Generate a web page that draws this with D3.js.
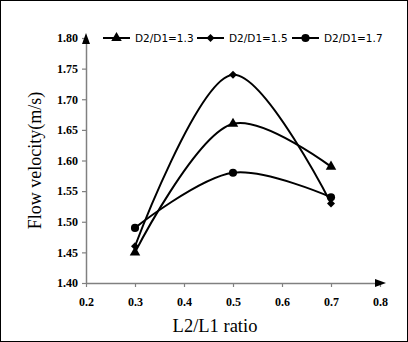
<!DOCTYPE html>
<html>
<head>
<meta charset="utf-8">
<script src="https://cdn.jsdelivr.net/npm/d3@7"></script>
<style>
  body { margin: 0; background: #fff; }
  svg { display: block; }
</style>
</head>
<body>
<svg id="chart" width="408" height="342"></svg>
<script>
const ratios = [0.3, 0.5, 0.7];
const series_names = ["D2/D1=1.3", "D2/D1=1.5", "D2/D1=1.7"];
const v13 = [1.45, 1.66, 1.59];
const v15 = [1.46, 1.74, 1.53];
const v17 = [1.49, 1.58, 1.54];
const x_ticks = [0.2, 0.3, 0.4, 0.5, 0.6, 0.7, 0.8];
const y_ticks = [1.40, 1.45, 1.50, 1.55, 1.60, 1.65, 1.70, 1.75, 1.80];

const svg = d3.select("#chart");
const margins = { top: 38, right: 28, bottom: 59, left: 86 };
const W = 408, H = 342;

svg.append("rect")
    .attr("x", 0.5).attr("y", 0.5)
    .attr("width", W - 1).attr("height", H - 1)
    .attr("fill", "white").attr("stroke", "black").attr("stroke-width", 1);

const x = d3.scaleLinear().domain([0.2, 0.8]).range([margins.left, W - margins.right]);
const y = d3.scaleLinear().domain([1.40, 1.80]).range([H - margins.bottom, margins.top]);

// axes
const xAxis = svg.append("g")
    .attr("transform", `translate(0,${y(1.40)})`)
    .call(d3.axisBottom(x).tickValues(x_ticks).tickFormat(d3.format(".1f")).tickSizeInner(4).tickSizeOuter(0));
const yAxis = svg.append("g")
    .attr("transform", `translate(${x(0.2)},0)`)
    .call(d3.axisLeft(y).tickValues(y_ticks).tickFormat(d3.format(".2f")).tickSizeInner(4).tickSizeOuter(0));

[xAxis, yAxis].forEach(a => {
    a.select(".domain").attr("stroke", "#808080").attr("stroke-width", 1.5);
    a.selectAll(".tick line").attr("stroke", "#808080").attr("stroke-width", 1.2);
    a.selectAll(".tick text")
        .attr("font-family", "'Liberation Serif', 'Times New Roman', serif")
        .attr("font-weight", "bold")
        .attr("font-size", "12px")
        .attr("fill", "black");
});
xAxis.selectAll(".tick text").attr("dy", "1.3em");
yAxis.selectAll(".tick text").attr("x", -8);

// arrow heads
svg.append("path")
    .attr("d", `M${x(0.8) + 6},${y(1.40)} L${x(0.8) - 5},${y(1.40) - 4} L${x(0.8) - 5},${y(1.40) + 4} Z`)
    .attr("fill", "black");
svg.append("path")
    .attr("d", `M${x(0.2)},${y(1.80) - 5} L${x(0.2) - 4},${y(1.80) + 6} L${x(0.2) + 4},${y(1.80) + 6} Z`)
    .attr("fill", "black");

// axis titles
svg.append("text")
    .attr("x", 215).attr("y", 332)
    .attr("text-anchor", "middle")
    .attr("font-family", "'Liberation Serif', 'Times New Roman', serif")
    .attr("font-size", "18.5px")
    .text("L2/L1 ratio");
svg.append("text")
    .attr("transform", `translate(41,${y(1.60)}) rotate(-90)`)
    .attr("text-anchor", "middle")
    .attr("font-family", "'Liberation Serif', 'Times New Roman', serif")
    .attr("font-size", "18px")
    .text("Flow velocity(m/s)");

// series
const all_series = [v13, v15, v17];
const diamond = {
    draw(ctx, size) {
        const r = Math.sqrt(size / 2);
        ctx.moveTo(0, -r); ctx.lineTo(r, 0); ctx.lineTo(0, r); ctx.lineTo(-r, 0); ctx.closePath();
    }
};
const shapes = [d3.symbolTriangle, diamond, d3.symbolCircle];
const sizes = [48, 32, 52];

const line = d3.line()
    .x((d, i) => x(ratios[i]))
    .y(d => y(d))
    .curve(d3.curveCatmullRom.alpha(0.5));

all_series.forEach((vals, k) => {
    svg.append("path")
        .datum(vals)
        .attr("d", line)
        .attr("fill", "none")
        .attr("stroke", "black")
        .attr("stroke-width", 2);
    svg.append("g").selectAll("path")
        .data(vals)
        .join("path")
        .attr("transform", (d, i) => `translate(${x(ratios[i])},${y(d)})`)
        .attr("d", d3.symbol().type(shapes[k]).size(sizes[k]))
        .attr("fill", "black");
});

// legend
const legend_x = [103, 197, 292];
series_names.forEach((name, k) => {
    const g = svg.append("g").attr("transform", `translate(${legend_x[k]},${y(1.80)})`);
    g.append("line").attr("x1", 0).attr("x2", 27).attr("y1", 0).attr("y2", 0)
        .attr("stroke", "black").attr("stroke-width", 2);
    g.append("path").attr("transform", "translate(13.5,0)")
        .attr("d", d3.symbol().type(shapes[k]).size(sizes[k])).attr("fill", "black");
    g.append("text").attr("x", 32).attr("y", 4)
        .attr("font-family", "'DejaVu Sans', sans-serif")
        .attr("font-size", "10.5px")
        .text(name);
});
</script>
</body>
</html>
